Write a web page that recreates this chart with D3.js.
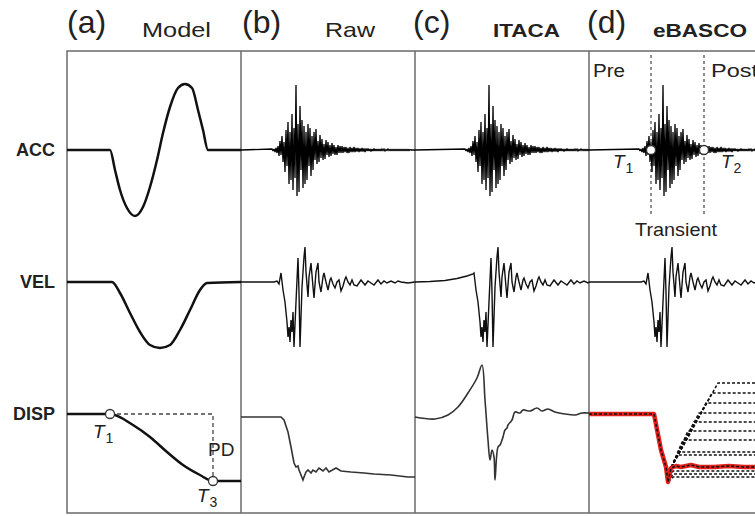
<!DOCTYPE html>
<html>
<head>
<meta charset="utf-8">
<script src="https://cdn.jsdelivr.net/npm/d3@7"></script>
<style>
  body { margin: 0; background: #fff; }
  text { font-family: "Liberation Sans", Arial, sans-serif; fill: #222; }
</style>
</head>
<body>
<div id="chart"></div>
<script>
// ---- data -------------------------------------------------------------
const panels = ["a", "b", "c", "d"];
const panelTitles = ["Model", "Raw", "ITACA", "eBASCO"];
const rowLabels = ["ACC", "VEL", "DISP"];

// (a) model pulses, [time, amplitude]
const modelAcc = [[0,0],[43,0],[48,-20],[53,-40],[60,-58],[68,-66],[76,-57],[83,-37],[90,-10],[96,17],
                  [103,43],[111,62],[118,66],[125,62],[131,40],[136,20],[141,0],[174,0]];
const modelVel = [[0,0],[45,0],[53,-11],[63,-31],[73,-50],[83,-63],[93,-66],[103,-63],[113,-48],
                  [123,-28],[133,-8],[140,-1],[174,0]];
const modelDisp = [[0,0],[43,0],[66,-11],[83,-23],[100,-38],[116,-51],[133,-61],[146,-67],[174,-67]];
const modelT1 = [43, 0];
const modelT3 = [146, -67];

// recorded acceleration, one sample per time step from the onset
const accRec = [
  1,-1,1,-2,2,-3,4,-6,9,-5,
  14,-12,8,-22,20,-16,28,-34,18,-30,
  36,-40,22,-28,65,-46,26,-42,44,-20,
  30,-38,24,-34,18,-30,26,-16,22,-26,
  14,-20,18,-10,21,-14,9,-12,15,-8,
  11,-10,6,-9,10,-5,8,-7,5,-6,
  7,-4,5,-5,3,-5,5,-3,4,-3,
  4,-3,3,-2,3,-3,2,-3,3,-2,
  2,-2,3,-2,2,-1.5,2,-2,1.5,-1.5,
  2,-1.5,1.5,-2,1.5,-1,1.5,-1,1,-1.5,
  1,-1,1.5,-1,1,-1,1,-1,1,-1,
  1,-0.5,1,-1,0.5,-0.5,1,-0.5,0.5,-0.5,
  0.5,-0.5,0.5,-0.5,0.5,-0.5,0.5,-0.5,0.5,-0.5,
  0.5,-0.5,0.5,-0.5,0.5,-0.5,0.5,-0.5,0.5,0
];
const onsetRaw = 31;    // record start in panel (b)
const onsetProc = 50;   // record start in panels (c) and (d)

// velocity, [time after onset, amplitude]
const velRec = [[0,0],[2,0],[5,1],[7,-2],[9,9],[11,-8],[13,-20],[15,-40],[16,-55],[17,-45],
  [18,-60],[19,-38],[20,-50],[21,-30],[22,-65],[24,-20],[26,24],[27,-10],[28,-65],[30,-5],
  [32,25],[33,35],[34,10],[36,-15],[37,5],[39,19],[41,-5],[42,-16],[44,10],[46,19],[47,0],
  [49,-10],[51,5],[52,9],[54,0],[56,-8],[58,2],[59,4],[61,-2],[63,-6],[65,0],[67,2],[69,-9],
  [71,-4],[73,3],[74,5],[76,0],[78,-3],[80,2],[82,-3],[85,-4],[89,2],[93,-3],[96,1],[99,-1],
  [102,-3],[106,2],[109,-2],[112,1],[115,-1],[119,1],[123,-1],[126,1],[129,0],[136,-1],[144,0]];
// ITACA pre-event velocity drift, [panel time, amplitude]
const velDriftItaca = [[0,0],[15,0.5],[30,1.5],[42,3.5],[52,6],[58,8]];

// displacement, [panel time, amplitude]
const dispRaw = [[0,-3],[40,-3],[43,-6],[47,-18],[50,-33],[53,-49],[55,-53],[57,-52],[58,-56],
  [60,-61],[62,-66],[63,-63],[65,-58],[67,-56],[70,-59],[72,-56],[75,-58],[78,-54],[82,-57],
  [85,-54],[88,-58],[95,-54],[100,-57],[110,-58],[123,-59],[133,-60],[150,-61],[167,-63],[174,-63]];
const dispItaca = [[0,-3],[20,-5],[33,-1],[43,7],[53,21],[62,36],[67,49],[70,14],[73,-26],[75,-46],
  [77,-36],[79,-43],[80,-66],[83,-33],[85,-31],[87,-26],[88,-23],[90,-16],[92,-14],[93,-11],
  [97,-6],[100,2],[105,1],[108,4],[115,3],[122,6],[127,3],[133,5],[140,2],[150,0],[160,-1],
  [167,1],[174,1]];
const dispEbasco = [[0,0],[65,0],[72,-36],[77,-53],[79,-68],[82,-54],[87,-52],[92,-53],[102,-51],
  [110,-53],[125,-53],[140,-52],[155,-53],[174,-53]];
// eBASCO trial fits: final level and time the ramp stops
const fanLevels = [31, 21, 11, 1, -8, -17, -26, -38, -41];
const fanBranch = [129, 123, 117, 110, 105, 99, 94, 90, 88];
const lowLevels = [-57, -60, -63];
const ebascoT = [62, 115];   // T1, T2

// ---- layout -----------------------------------------------------------
const W = 755, H = 516;
const box = {left: 67, top: 51, bottom: 513, panelW: 174};
const rowBase = {ACC: 150, VEL: 282, DISP: 414};

const svg = d3.select("#chart").append("svg")
    .attr("width", W)
    .attr("height", H);

const px = d3.scaleBand()
    .domain(panels)
    .range([box.left, box.left + panels.length * box.panelW]);

function xs(p) {
  return d3.scaleLinear().domain([0, 174]).range([px(p), px(p) + box.panelW]);
}
const y = {};
rowLabels.forEach(function(r) {
  y[r] = d3.scaleLinear().domain([-100, 100]).range([rowBase[r] + 100, rowBase[r] - 100]);
});

function lineFor(p, r, curve) {
  const x = xs(p);
  return d3.line()
      .x(function(d) { return x(d[0]); })
      .y(function(d) { return y[r](d[1]); })
      .curve(curve || d3.curveLinear);
}

// frame
svg.append("rect")
    .attr("x", box.left).attr("y", box.top)
    .attr("width", panels.length * box.panelW).attr("height", box.bottom - box.top)
    .attr("fill", "none").attr("stroke", "#6a6a6a").attr("stroke-width", 1.5);
svg.selectAll("line.div")
    .data(panels.slice(1))
    .enter().append("line")
    .attr("x1", function(d) { return px(d); }).attr("x2", function(d) { return px(d); })
    .attr("y1", box.top).attr("y2", box.bottom)
    .attr("stroke", "#6a6a6a").attr("stroke-width", 1.5);

// headers
const letterDx = [0, 1, -2, -2];
const titleDx = [75, 84, 78, 64];
const titleW = [69, 50, 67, 94];
panels.forEach(function(p, i) {
  svg.append("text")
      .attr("x", px(p) + letterDx[i]).attr("y", 33)
      .attr("font-size", 32)
      .text("(" + p + ")");
  svg.append("text")
      .attr("x", px(p) + titleDx[i]).attr("y", 37)
      .attr("font-size", i >= 2 ? 19 : 21)
      .attr("font-weight", i >= 2 ? "bold" : "normal")
      .attr("textLength", titleW[i])
      .attr("lengthAdjust", "spacingAndGlyphs")
      .text(panelTitles[i]);
});

rowLabels.forEach(function(r) {
  svg.append("text")
      .attr("x", 55).attr("y", rowBase[r] + 6)
      .attr("text-anchor", "end")
      .attr("font-size", 18).attr("font-weight", "bold")
      .text(r);
});

// ---- panel (a) model ---------------------------------------------------
const modelStyle = function(sel) {
  sel.attr("fill", "none").attr("stroke", "#111").attr("stroke-width", 2.5);
};
svg.append("path").attr("d", lineFor("a", "ACC", d3.curveMonotoneX)(modelAcc)).call(modelStyle);
svg.append("path").attr("d", lineFor("a", "VEL", d3.curveMonotoneX)(modelVel)).call(modelStyle);
svg.append("path").attr("d", lineFor("a", "DISP", d3.curveMonotoneX)(modelDisp)).call(modelStyle);

const xa = xs("a");
svg.append("path")
    .attr("d", lineFor("a", "DISP")([modelT1, [modelT3[0], modelT1[1]], modelT3]))
    .attr("fill", "none").attr("stroke", "#444").attr("stroke-width", 1.3)
    .attr("stroke-dasharray", "4,3");

function marker(x, yv) {
  svg.append("circle")
      .attr("cx", x).attr("cy", yv).attr("r", 4.5)
      .attr("fill", "#fff").attr("stroke", "#333").attr("stroke-width", 1.3);
}
function tLabel(x, yv, sub) {
  const t = svg.append("text").attr("x", x).attr("y", yv).attr("font-size", 19);
  t.append("tspan").attr("font-style", "italic").text("T");
  t.append("tspan").attr("font-size", 14).attr("dy", 5).attr("dx", 1).text(sub);
}
marker(xa(modelT1[0]), y.DISP(modelT1[1]));
marker(xa(modelT3[0]), y.DISP(modelT3[1]));
tLabel(xa(modelT1[0]) - 17, y.DISP(modelT1[1]) + 24, "1");
tLabel(xa(modelT3[0]) - 16, y.DISP(modelT3[1]) + 21, "3");
svg.append("text")
    .attr("x", xa(modelT3[0]) - 5)
    .attr("y", (y.DISP(modelT1[1]) + y.DISP(modelT3[1])) / 2 + 8)
    .attr("font-size", 19)
    .text("PD");

// ---- recorded traces ----------------------------------------------------
function accPoints(onset) {
  const pts = [[0, 0]];
  accRec.forEach(function(v, i) { pts.push([onset + i, v]); });
  pts.push([onset + accRec.length, 0], [174, 0]);
  return pts.filter(function(d) { return d[0] <= 174; });
}
function velPoints(onset, from) {
  return velRec
      .filter(function(d) { return d[0] >= (from || 0); })
      .map(function(d) { return [onset + d[0], d[1]]; })
      .filter(function(d) { return d[0] <= 174; });
}

const accStyle = function(sel) {
  sel.attr("fill", "none").attr("stroke", "#000").attr("stroke-width", 1.3)
     .attr("stroke-linejoin", "miter").attr("stroke-miterlimit", 2);
};
const velStyle = function(sel) {
  sel.attr("fill", "none").attr("stroke", "#111").attr("stroke-width", 1.4);
};
const dispStyle = function(sel) {
  sel.attr("fill", "none").attr("stroke", "#333").attr("stroke-width", 1.6);
};

// (b) raw
svg.append("path").attr("d", lineFor("b", "ACC")(accPoints(onsetRaw))).call(accStyle);
svg.append("path").attr("d", lineFor("b", "VEL")([[0, 0]].concat(velPoints(onsetRaw)).concat([[174, 0]]))).call(velStyle);
svg.append("path").attr("d", lineFor("b", "DISP")(dispRaw)).call(dispStyle);

// (c) ITACA
svg.append("path").attr("d", lineFor("c", "ACC")(accPoints(onsetProc))).call(accStyle);
svg.append("path").attr("d", lineFor("c", "VEL")(velDriftItaca.concat(velPoints(onsetProc, 9)).concat([[174, 0]]))).call(velStyle);
svg.append("path").attr("d", lineFor("c", "DISP", d3.curveCatmullRom)(dispItaca)).call(dispStyle);

// (d) eBASCO
const xd = xs("d");
svg.selectAll("line.tdash")
    .data(ebascoT)
    .enter().append("line")
    .attr("x1", function(d) { return xd(d); }).attr("x2", function(d) { return xd(d); })
    .attr("y1", box.top + 4).attr("y2", 217)
    .attr("stroke", "#444").attr("stroke-width", 1.2)
    .attr("stroke-dasharray", "3,3");

svg.append("path").attr("d", lineFor("d", "ACC")(accPoints(onsetProc))).call(accStyle);
svg.append("path").attr("d", lineFor("d", "VEL")([[0, 0]].concat(velPoints(onsetProc)).concat([[174, 0]]))).call(velStyle);

const fanStyle = function(sel) {
  sel.attr("fill", "none").attr("stroke", "#111").attr("stroke-width", 1.5)
     .attr("stroke-dasharray", "3,2");
};
const redHead = dispEbasco.filter(function(d) { return d[0] <= 82; });
fanLevels.forEach(function(L, i) {
  svg.append("path")
      .attr("d", lineFor("d", "DISP")(redHead.concat([[fanBranch[i], L], [174, L]])))
      .call(fanStyle);
});
const troughHead = dispEbasco.filter(function(d) { return d[0] <= 79; });
lowLevels.forEach(function(L) {
  svg.append("path")
      .attr("d", lineFor("d", "DISP")(troughHead.concat([[84, L], [174, L]])))
      .call(fanStyle);
});
svg.append("path")
    .attr("d", lineFor("d", "DISP")(dispEbasco))
    .attr("fill", "none").attr("stroke", "#e3211c").attr("stroke-width", 4.5)
    .attr("stroke-linejoin", "round");
svg.append("path").attr("d", lineFor("d", "DISP")(dispEbasco)).call(fanStyle);

ebascoT.forEach(function(t) { marker(xd(t), y.ACC(0)); });
tLabel(xd(ebascoT[0]) - 38, y.ACC(0) + 18, "1");
tLabel(xd(ebascoT[1]) + 17, y.ACC(0) + 18, "2");

svg.append("text").attr("x", xd(4)).attr("y", 77).attr("font-size", 18)
    .attr("textLength", 32).attr("lengthAdjust", "spacingAndGlyphs").text("Pre");
svg.append("text").attr("x", xd(ebascoT[1]) + 7).attr("y", 77).attr("font-size", 18)
    .attr("textLength", 47).attr("lengthAdjust", "spacingAndGlyphs").text("Post");
svg.append("text").attr("x", xd(46)).attr("y", 236).attr("font-size", 19)
    .attr("textLength", 82).attr("lengthAdjust", "spacingAndGlyphs").text("Transient");
</script>
</body>
</html>
